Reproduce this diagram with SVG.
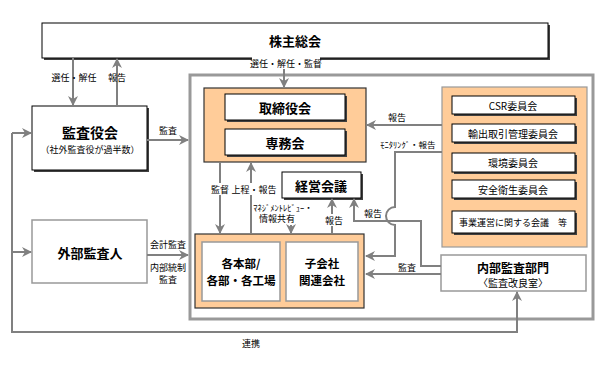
<svg xmlns="http://www.w3.org/2000/svg" width="611" height="368" viewBox="0 0 611 368">
<defs>
<marker id="ar" viewBox="0 0 10 10" refX="9" refY="5" markerWidth="10" markerHeight="10" markerUnits="userSpaceOnUse" orient="auto">
<path d="M0,0 L10,5 L0,10 L3,5 z" fill="#808080"/>
</marker>
<style>
.t{font-family:"Noto Sans CJK JP","Noto Sans",sans-serif;fill:#000;text-anchor:middle;dominant-baseline:central}
.tb{font-weight:bold}
.l{font-size:9px}
.s{font-size:8.5px}
.c{stroke:#808080;stroke-width:2;fill:none}
.sh{fill:#404040}
.bx{fill:#fff;stroke:#000;stroke-width:1}
.gb{fill:#fff;stroke:#999;stroke-width:1.5}
.or{fill:#FFCC99;stroke:#333;stroke-width:1.2}
.lb{fill:#fff}
</style>
</defs>
<rect width="611" height="368" fill="#fff"/>

<g id="container">
<rect x="190" y="75" width="403" height="244" fill="none" stroke="#999" stroke-width="3"/>
</g>

<g id="kabunushi">
<rect class="sh" x="44" y="25" width="506" height="35"/>
<rect class="bx" x="42" y="23" width="506" height="35"/>
<text class="t tb" x="295" y="40" font-size="13">株主総会</text>
</g>

<g id="kansayakukai">
<rect class="sh" x="34" y="108" width="115" height="64"/>
<rect class="bx" x="32" y="106" width="115" height="64"/>
<text class="t tb" x="90" y="132" font-size="14">監査役会</text>
<text class="t" x="90" y="149" font-size="9">（社外監査役が過半数）</text>
</g>

<g id="gaibu">
<rect class="gb" x="32" y="220" width="115" height="63"/>
<text class="t tb" x="90" y="252" font-size="13">外部監査人</text>
</g>

<g id="board">
<rect class="or" x="204" y="88" width="162" height="74"/>
<rect class="sh" x="227" y="96" width="120" height="26"/>
<rect class="bx" x="225" y="94" width="120" height="26"/>
<text class="t tb" x="285" y="107" font-size="13">取締役会</text>
<rect class="sh" x="227" y="131" width="120" height="26"/>
<rect class="bx" x="225" y="129" width="120" height="26"/>
<text class="t tb" x="285" y="142" font-size="13">専務会</text>
</g>

<g id="keiei">
<rect class="sh" x="284" y="174" width="79" height="26"/>
<rect class="bx" x="282" y="172" width="79" height="26"/>
<text class="t tb" x="321" y="185" font-size="13">経営会議</text>
</g>

<g id="committees">
<rect x="442" y="87" width="145" height="160" fill="#FFCC99" stroke="#999" stroke-width="1.2"/>
<rect class="sh" x="454" y="98" width="123" height="18"/>
<rect class="bx" x="452" y="96" width="123" height="18"/>
<text class="t" x="513" y="105" font-size="10">CSR委員会</text>
<rect class="sh" x="454" y="126" width="123" height="18"/>
<rect class="bx" x="452" y="124" width="123" height="18"/>
<text class="t" x="513" y="133" font-size="10">輸出取引管理委員会</text>
<rect class="sh" x="454" y="155" width="123" height="19"/>
<rect class="bx" x="452" y="153" width="123" height="19"/>
<text class="t" x="513" y="162" font-size="10">環境委員会</text>
<rect class="sh" x="454" y="182" width="123" height="18"/>
<rect class="bx" x="452" y="180" width="123" height="18"/>
<text class="t" x="513" y="189" font-size="10">安全衛生委員会</text>
<rect class="sh" x="454" y="213" width="123" height="22"/>
<rect class="bx" x="452" y="211" width="123" height="22"/>
<text class="t" x="513" y="222" font-size="9">事業運営に関する会議　等</text>
</g>

<g id="bumon">
<rect class="or" x="195" y="234" width="169" height="74"/>
<rect class="gb" x="202" y="242" width="78" height="59"/>
<text class="t tb" x="241" y="263" font-size="11.5">各本部/</text>
<text class="t tb" x="241" y="280" font-size="11.5">各部・各工場</text>
<rect class="gb" x="286" y="242" width="72" height="59"/>
<text class="t tb" x="322" y="263" font-size="11.5">子会社</text>
<text class="t tb" x="322" y="280" font-size="11.5">関連会社</text>
</g>

<g id="naibu">
<rect class="gb" x="441" y="255" width="145" height="36"/>
<text class="t tb" x="513" y="267" font-size="12">内部監査部門</text>
<text class="t" x="513" y="282" font-size="10">〈監査改良室〉</text>
</g>

<g id="connectors">
<path class="c" d="M73,58 V105" marker-end="url(#ar)"/>
<path class="c" d="M117,106 V59" marker-end="url(#ar)"/>
<path class="c" d="M284,58 V87" marker-end="url(#ar)"/>
<path class="c" d="M147,140 H188" marker-end="url(#ar)"/>
<path class="c" d="M147,255 H188" marker-end="url(#ar)"/>
<path class="c" d="M442,125 H367" marker-end="url(#ar)"/>
<path class="c" d="M442,152 H395 V207 A9,9 0 0 0 395,225 V256 H366" marker-end="url(#ar)"/>
<path class="c" d="M441,266 H421 V221 H354 V199" marker-end="url(#ar)"/>
<path class="c" d="M441,274 H366" marker-end="url(#ar)"/>
<path class="c" d="M220,162 V233" marker-end="url(#ar)"/>
<path class="c" d="M251,234 V163" marker-end="url(#ar)"/>
<path class="c" d="M291,225 V233" marker-end="url(#ar)"/>
<path class="c" d="M332,234 V199" marker-end="url(#ar)"/>
<path class="c" d="M12,133 H31" marker-end="url(#ar)"/>
<path class="c" d="M12,252 H31" marker-end="url(#ar)"/>
<path class="c" d="M12,133 V332 H517 V292" marker-end="url(#ar)"/>
</g>

<g id="labels">
<text class="t l" x="74" y="77">選任・解任</text>
<text class="t l" x="117" y="77">報告</text>
<rect class="lb" x="252" y="57" width="68" height="12"/>
<text class="t l" x="286" y="63">選任・解任・監督</text>
<text class="t l" x="168" y="130">監査</text>
<text class="t l" x="397" y="117">報告</text>
<text class="t s" x="408" y="144">ﾓﾆﾀﾘﾝｸﾞ・報告</text>
<rect class="lb" x="208" y="183" width="24" height="12"/>
<text class="t l" x="220" y="189">監督</text>
<rect class="lb" x="232" y="183" width="45" height="12"/>
<text class="t l" x="254" y="189">上程・報告</text>
<text class="t s" x="283" y="207">ﾏﾈｼﾞﾒﾝﾄﾚﾋﾞｭｰ・</text>
<text class="t l" x="277" y="218">情報共有</text>
<rect class="lb" x="322" y="214" width="24" height="12"/>
<text class="t l" x="334" y="220">報告</text>
<text class="t l" x="373" y="213">報告</text>
<text class="t l" x="407" y="267">監査</text>
<text class="t l" x="168" y="244">会計監査</text>
<text class="t l" x="168" y="267">内部統制</text>
<text class="t l" x="168" y="279">監査</text>
<text class="t l" x="251" y="343">連携</text>
</g>
</svg>
